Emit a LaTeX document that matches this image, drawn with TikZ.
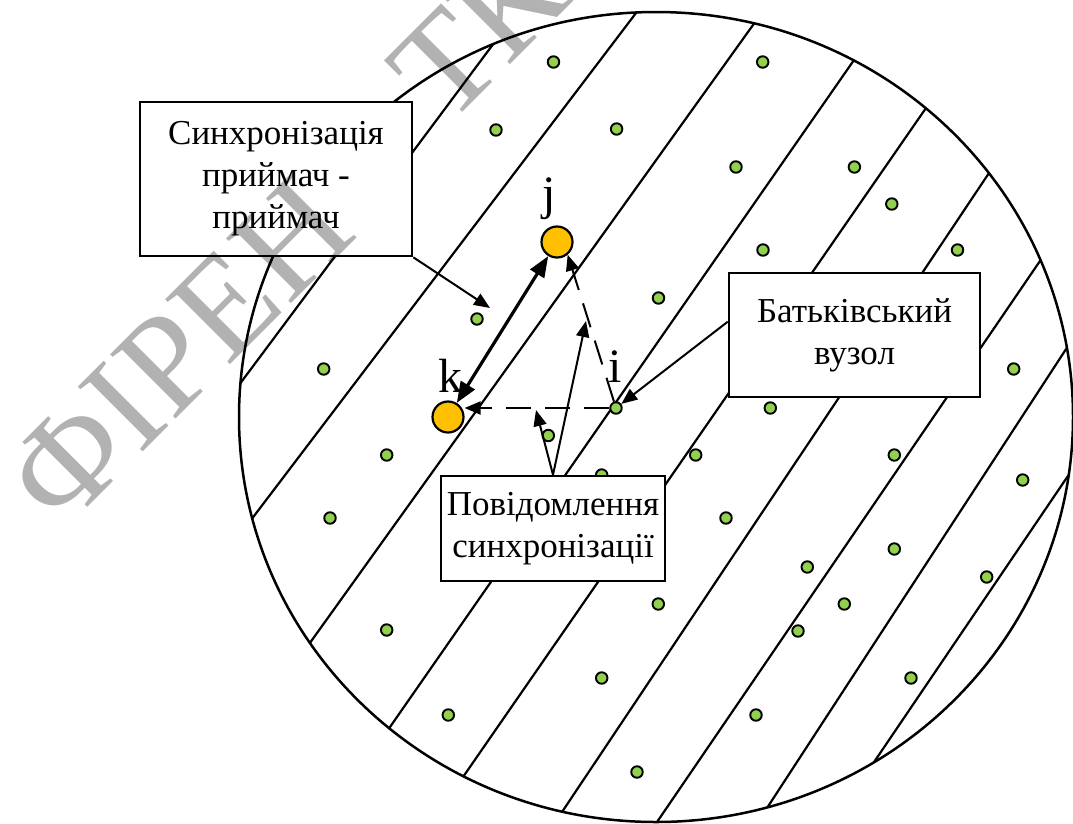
\documentclass[tikz,border=0pt]{standalone}
\usepackage{fontspec}
\setmainfont{Liberation Serif}
\usetikzlibrary{arrows.meta,calc}
\definecolor{dotgreen}{HTML}{92D050}
\definecolor{nodeorange}{HTML}{FFC000}
\begin{document}
\begin{tikzpicture}[x=1pt,y=-1pt,
  hatch/.style={line width=2.2pt,shorten <=-40pt,shorten >=-40pt},
  dot/.style={circle,draw,line width=1.9pt,fill=dotgreen,minimum size=11.5pt,inner sep=0pt},
  bignode/.style={circle,draw,line width=2.2pt,fill=nodeorange,minimum size=31pt,inner sep=0pt},
  box/.style={draw,line width=2.5pt,fill=white,inner sep=0pt,align=center,font=\fontsize{35}{42}\selectfont},
  lbl/.style={font=\fontsize{48}{48}\selectfont,inner sep=0pt,anchor=base},
  arr/.style={line width=2pt,-{Triangle[length=16pt,width=13pt]}},
  dasharr/.style={arr,dash pattern=on 25pt off 14pt},
  dblarr/.style={line width=3.2pt,{Triangle[length=21pt,width=16pt]}-{Triangle[length=21pt,width=16pt]}},
  wmark/.style={text=black,text opacity=0.3,font=\fontsize{140}{140}\selectfont,inner sep=0pt,rotate=45}
]
\useasboundingbox (0,0) rectangle (1073,823);
\fill[white] (0,0) rectangle (1073,823);
% hatch lines
\begin{scope}
\clip (656,417) ellipse [x radius=417, y radius=405];
\foreach \ax/\ay/\bx/\by in {242/381/491/47, 254/516/636/13, 312/640/753/25, 390/727/854/60, 463/777/926/108, 562/812/989/173, 657/822/1042/258, 767/808/1070/343, 870/768/1072/470}
  \draw[hatch] (\ax,\ay) -- (\bx,\by);
\end{scope}
\draw[line width=2.5pt] (656,417) ellipse [x radius=417, y radius=405];
% green dots
\foreach \x/\y [count=\n] in {553.5/62, 762.7/62, 496/130, 616.6/129, 736/167, 854.4/167, 891.8/204, 763/250, 957.5/250, 658.5/298, 477/319, 323.7/369, 1013.7/369, 770.3/408, 548.3/435.5, 386.7/455, 695.7/455, 894.3/455, 1022.7/480, 601.7/475, 330/518, 726/518, 894.3/549, 807.3/567, 986.7/577, 658.3/604, 844.3/604, 386.7/630, 798/631, 911/678, 601.7/678, 448.3/715, 756/715, 637/772}
  \node[dot] (d\n) at (\x,\y) {};
\node[dot] (i) at (616,408) {};
\node[bignode] (k) at (448,417) {};
\node[bignode] (j) at (557,242) {};
% labels
\node[lbl] (lk) at (450,392) {k};
\node[lbl] (lj) at (549,209) {j};
\node[lbl] (li) at (615,382) {i};
% boxes
\node[box, minimum width=272pt, minimum height=154pt] (b1) at (276,179) {Синхронізація\\приймач -\\приймач};
\node[box, minimum width=251pt, minimum height=124pt] (b2) at (854.5,335) {Батьківський\\вузол};
\node[box, minimum width=224pt, minimum height=105pt] (b3) at (553,528.5) {Повідомлення\\синхронізації};
% connectors
\coordinate (t1) at (490,308);
\coordinate (t6) at (536,410);
\coordinate (t7) at (586,321);
\draw[arr] (b1.south east) -- (t1);
\draw[dblarr] (k) -- (j);
\draw[dasharr] (i) -- (k.east |- i);
\draw[dasharr] (i) -- (j.-50);
\draw[arr] (b2.174) -- (i);
\draw[arr] (b3.north) -- (t6);
\draw[arr] (b3.north) -- (t7);
% watermark
\node[wmark] (w1) at (178,352) {ФІРЕН};
\node[wmark] (w2) at (478,32) {ТК};
\end{tikzpicture}
\end{document}
